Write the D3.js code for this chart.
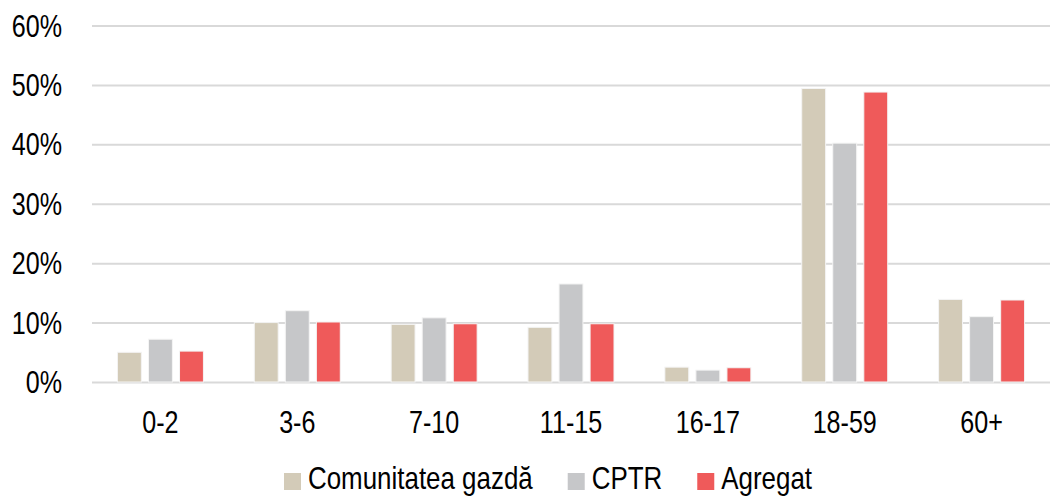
<html>
<head>
  <meta charset="UTF-8">
  <script src="https://d3js.org/d3.v7.min.js"></script>
  <style>
    body { margin: 0; background: white; }
    text { font-family: "Liberation Sans", Arial, sans-serif; fill: #000; }
    .gridlines line { stroke: #d9d9d9; stroke-width: 2; }
    .gridlines .domain { stroke: none; }
  </style>
</head>
<body>
  <svg id="chart" width="1053" height="496"></svg>
  <script>
    // age groups and the three series (share of people, %)
    const groups = ["0-2", "3-6", "7-10", "11-15", "16-17", "18-59", "60+"];
    const seriesNames = ["Comunitatea gazdă", "CPTR", "Agregat"];
    const host = [5.0, 10.0, 9.7, 9.2, 2.5, 49.4, 13.9];
    const cptr = [7.2, 12.0, 10.8, 16.5, 2.0, 40.2, 11.0];
    const agregat = [5.2, 10.1, 9.8, 9.8, 2.4, 48.8, 13.8];
    const yTicks = [0, 10, 20, 30, 40, 50, 60];
    const colors = ["#d3cbb8", "#c6c7c9", "#ef5a5a"];

    const svg = d3.select("svg#chart");
    const plotLeft = 92, plotRight = 1050, plotTop = 25.5, plotBottom = 382;
    const narrow = 0.81; // no narrow font installed, squeeze the regular one
    const fontSize = "31px";

    // scales
    const x = d3.scaleBand().domain(groups).range([plotLeft, plotRight]);
    const xInner = d3.scaleBand().domain(seriesNames).range([0, 86]).paddingInner(0.23);
    const y = d3.scaleLinear().domain([0, 60]).range([plotBottom, plotTop]);

    // gridlines
    svg.append("g").attr("class", "gridlines")
      .attr("transform", `translate(${plotLeft},0)`)
      .call(d3.axisLeft(y).tickValues(yTicks).tickFormat("").tickSize(-(plotRight - plotLeft)));

    // y labels
    svg.append("g").selectAll("g").data(yTicks)
      .join("g")
      .attr("transform", d => `translate(62,${y(d)}) scale(${narrow},1)`)
      .append("text")
      .attr("dy", "0.36em")
      .attr("text-anchor", "end")
      .attr("font-size", fontSize)
      .text(d => d + "%");

    // bars
    const rows = seriesNames.map((s, i) => ({ name: s, color: colors[i], values: [host, cptr, agregat][i] }));
    svg.append("g").selectAll("g").data(rows)
      .join("g")
      .attr("fill", d => d.color)
      .selectAll("rect")
      .data(d => d.values.map((v, j) => ({ name: d.name, group: groups[j], value: v })))
      .join("rect")
      .attr("x", d => x(d.group) + x.bandwidth() / 2 - 43 + xInner(d.name))
      .attr("y", d => y(d.value))
      .attr("width", xInner.bandwidth())
      .attr("height", d => y(0) - y(d.value))
      .attr("stroke", "#f4f4f4")
      .attr("stroke-width", 1);

    // x labels
    svg.append("g").selectAll("g").data(groups)
      .join("g")
      .attr("transform", d => `translate(${x(d) + x.bandwidth() / 2},432.5) scale(${narrow},1)`)
      .append("text")
      .attr("text-anchor", "middle")
      .attr("font-size", fontSize)
      .text(d => d);

    // legend
    const legend = svg.append("g");
    let lx = 284;
    rows.forEach(r => {
      legend.append("rect").attr("x", lx).attr("y", 473).attr("width", 17).attr("height", 17).attr("fill", r.color);
      const t = legend.append("g")
        .attr("transform", `translate(${lx + 24},489) scale(${narrow},1)`)
        .append("text")
        .attr("font-size", "32px").text(r.name);
      lx += 24 + t.node().getComputedTextLength() * narrow + 35;
    });
  </script>
</body>
</html>
